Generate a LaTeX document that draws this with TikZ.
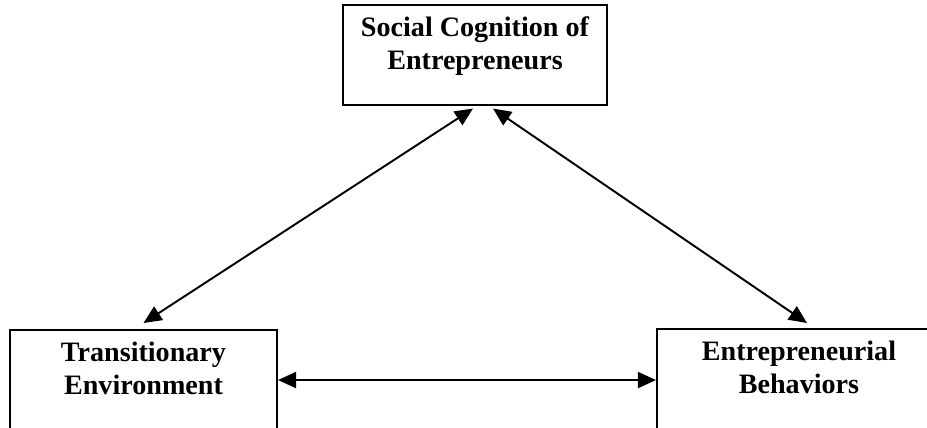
\documentclass[tikz,border=0pt]{standalone}
\usepackage{fontspec}
\setmainfont{Liberation Serif}
\usetikzlibrary{arrows.meta}
\tikzset{
  % Concept box (black frame, bold serif text at the top)
  cbox/.style={rectangle,draw=black,line width=1.2pt,fill=white,
    align=center,font=\fontsize{16}{18.6}\selectfont\bfseries,
    text height=1.05cm,text depth=0.49cm,
    inner xsep=0pt,inner ysep=0.23cm},
  % Two-headed link
  arr/.style={<->,>={Triangle[length=0.36cm,width=0.32cm]},
    line width=1.1pt,color=black},
}
\begin{document}
\begin{tikzpicture}[x=0.02cm,y=-0.02cm]
  \useasboundingbox (0,0) rectangle (927,427);
  \clip (0,0) rectangle (927,427);

  \node[cbox,minimum width=5.28cm] (soc) at (475,55)
    {Social Cognition of\\Entrepreneurs};
  \node[cbox,minimum width=5.34cm,anchor=north] (env) at (143.5,329)
    {Transitionary\\Environment};
  \node[cbox,minimum width=5.68cm,anchor=north] (beh) at (799,328)
    {Entrepreneurial\\Behaviors};

  \draw[arr] ([xshift=-0.04cm,yshift=-0.05cm]soc.south)
    -- ([yshift=0.12cm]env.north);
  \draw[arr] ([xshift=0.36cm,yshift=-0.05cm]soc.south)
    -- ([xshift=0.16cm,yshift=0.1cm]beh.north);
  \draw[arr] (env.east) -- (env.east -| beh.west);
\end{tikzpicture}
\end{document}
